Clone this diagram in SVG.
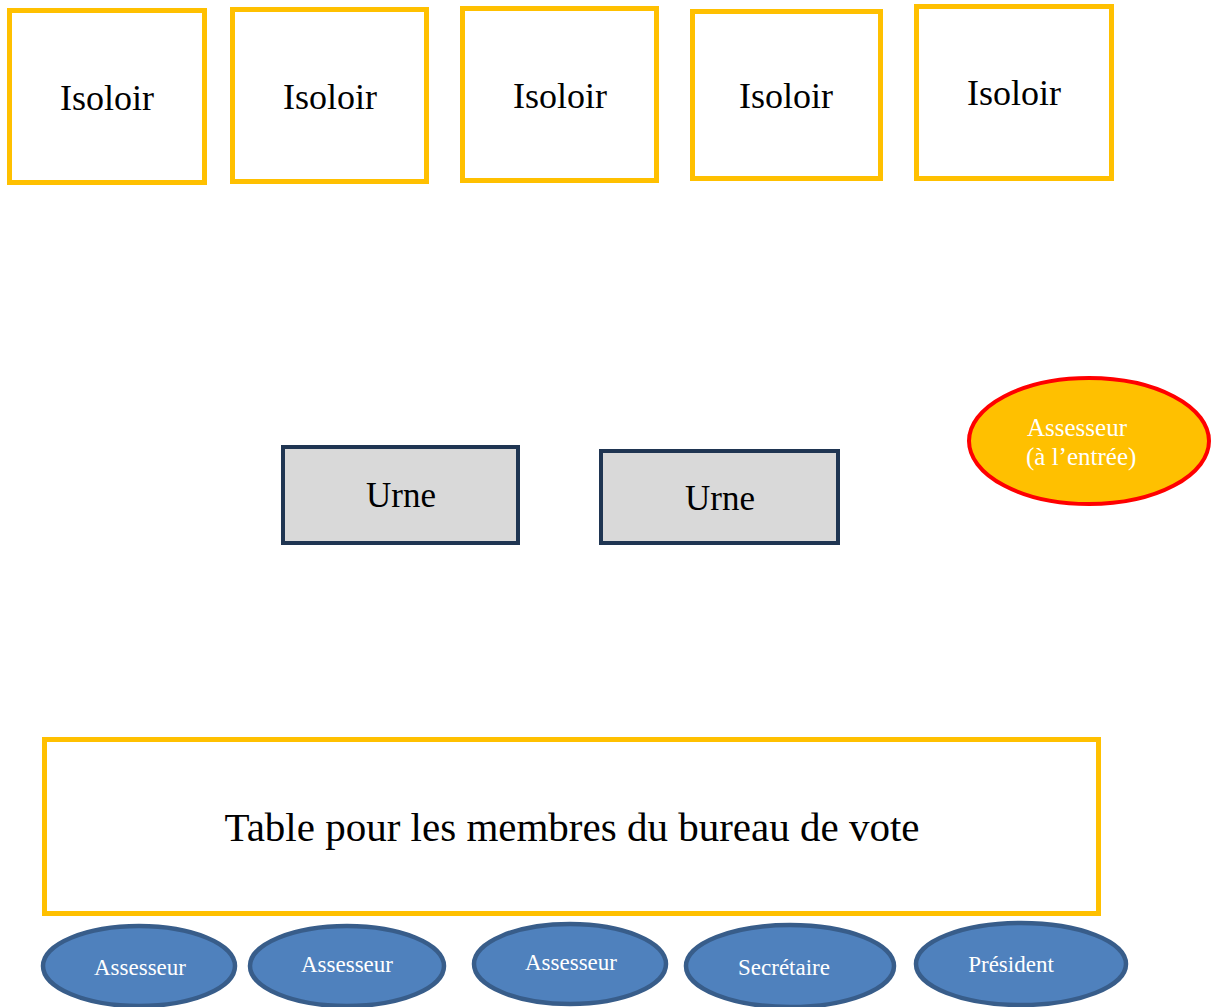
<svg xmlns="http://www.w3.org/2000/svg" width="1211" height="1007" viewBox="0 0 1211 1007">
<style>
.iso{fill:#fff;stroke:#FFC000;stroke-width:5}
.urne{fill:#D9D9D9;stroke:#1F3552;stroke-width:4}
.mem{fill:#4F81BD;stroke:#385D8A;stroke-width:4.5}
.t{font-family:"Liberation Serif","Times New Roman",serif;fill:#000;text-anchor:middle}
.w{font-family:"Liberation Serif","Times New Roman",serif;fill:#fff;text-anchor:middle;font-size:23px}
</style>
<rect width="1211" height="1007" fill="#fff"/>
<g id="isoloir1"><rect class="iso" x="9.5" y="10.5" width="195" height="172"/><text class="t" x="107" y="110" font-size="36">Isoloir</text></g>
<g id="isoloir2"><rect class="iso" x="232.5" y="9.5" width="194" height="172"/><text class="t" x="330" y="109" font-size="36">Isoloir</text></g>
<g id="isoloir3"><rect class="iso" x="462.5" y="8.5" width="194" height="172"/><text class="t" x="560" y="108" font-size="36">Isoloir</text></g>
<g id="isoloir4"><rect class="iso" x="692.5" y="11.5" width="188" height="167"/><text class="t" x="786" y="108" font-size="36">Isoloir</text></g>
<g id="isoloir5"><rect class="iso" x="916.5" y="6.5" width="195" height="172"/><text class="t" x="1014" y="105" font-size="36">Isoloir</text></g>
<g id="assesseur-entree"><ellipse cx="1089" cy="441" rx="120" ry="63" fill="#FFC000" stroke="#FF0000" stroke-width="4"/><text x="1027" y="436" font-family="Liberation Serif, Times New Roman, serif" font-size="25" fill="#fff">Assesseur</text><text x="1026" y="465" font-family="Liberation Serif, Times New Roman, serif" font-size="25" fill="#fff">(à l’entrée)</text></g>
<g id="urne1"><rect class="urne" x="283" y="447" width="235" height="96"/><text class="t" x="401" y="507" font-size="35">Urne</text></g>
<g id="urne2"><rect class="urne" x="601" y="451" width="237" height="92"/><text class="t" x="720" y="510" font-size="35">Urne</text></g>
<g id="table"><rect class="iso" x="44.5" y="739.5" width="1054" height="174"/><text class="t" x="572" y="841" font-size="41">Table pour les membres du bureau de vote</text></g>
<g id="assesseur1"><ellipse class="mem" cx="139" cy="966" rx="96" ry="40"/><text class="w" x="140" y="975">Assesseur</text></g>
<g id="assesseur2"><ellipse class="mem" cx="347" cy="966" rx="97" ry="40"/><text class="w" x="347" y="972">Assesseur</text></g>
<g id="assesseur3"><ellipse class="mem" cx="570" cy="964" rx="96" ry="40"/><text class="w" x="571" y="970">Assesseur</text></g>
<g id="secretaire"><ellipse class="mem" cx="790" cy="966" rx="104" ry="41"/><text class="w" x="784" y="975">Secrétaire</text></g>
<g id="president"><ellipse class="mem" cx="1021" cy="964" rx="105" ry="41"/><text class="w" x="1011" y="972">Président</text></g>
<g id="connectors"/>
</svg>
